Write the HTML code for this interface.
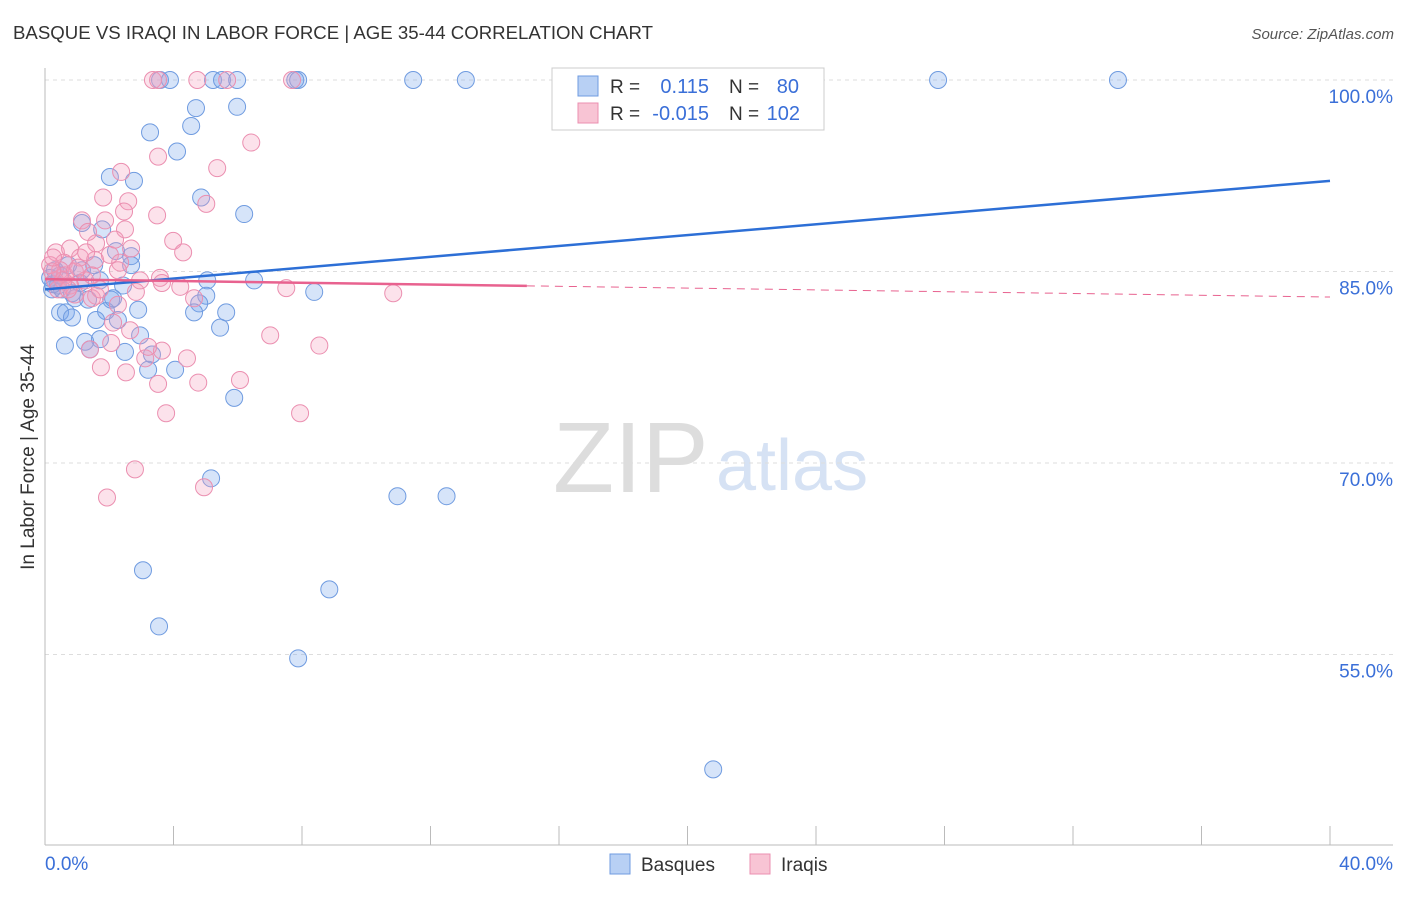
<!DOCTYPE html>
<html><head><meta charset="utf-8">
<style>
body{margin:0;background:#fff;font-family:"Liberation Sans",sans-serif;}
svg text{font-family:"Liberation Sans",sans-serif;}
</style></head>
<body>
<svg id="chart" width="1406" height="892" viewBox="0 0 1406 892" xmlns="http://www.w3.org/2000/svg">
<text x="13" y="39" font-size="18" fill="#333" textLength="640" lengthAdjust="spacingAndGlyphs">BASQUE VS IRAQI IN LABOR FORCE | AGE 35-44 CORRELATION CHART</text>
<text x="1394" y="39" font-size="15" fill="#555" text-anchor="end" font-style="italic">Source: ZipAtlas.com</text>
<text x="553" y="492" font-size="100" fill="#ddd" font-family="Liberation Serif, serif">ZIP</text>
<text x="716" y="490" font-size="72" fill="#d6e2f4">atlas</text>
<g id="grid"></g>
<g id="axes"></g>
<g id="pts"></g>
<g id="trends"></g>
<text transform="translate(34,457) rotate(-90)" font-size="19" fill="#333" text-anchor="middle">In Labor Force | Age 35-44</text>
<text x="45" y="870" font-size="19" fill="#3a6fd8">0.0%</text>
<text x="1393" y="870" font-size="19" fill="#3a6fd8" text-anchor="end">40.0%</text>
<g>
<rect x="552" y="68" width="272" height="62" fill="#fff" stroke="#ccc"/>
<rect x="578" y="76" width="20" height="20" fill="#b8d0f4" stroke="#6f9be0"/>
<rect x="578" y="103" width="20" height="20" fill="#f8c4d4" stroke="#eb8fb0"/>
<text x="610" y="93" font-size="19" fill="#333">R =</text>
<text x="709" y="93" font-size="20" fill="#3a6fd8" text-anchor="end">0.115</text>
<text x="729" y="93" font-size="19" fill="#333">N =</text>
<text x="799" y="93" font-size="20" fill="#3a6fd8" text-anchor="end">80</text>
<text x="610" y="120" font-size="19" fill="#333">R =</text>
<text x="709" y="120" font-size="20" fill="#3a6fd8" text-anchor="end">-0.015</text>
<text x="729" y="120" font-size="19" fill="#333">N =</text>
<text x="800" y="120" font-size="20" fill="#3a6fd8" text-anchor="end">102</text>
</g>
<g><rect x="610" y="854" width="20" height="20" fill="#b8d0f4" stroke="#6f9be0"/><text x="641" y="871" font-size="19" fill="#333">Basques</text></g>
<g><rect x="750" y="854" width="20" height="20" fill="#f8c4d4" stroke="#eb8fb0"/><text x="781" y="871" font-size="19" fill="#333">Iraqis</text></g>
</svg>
<script>
const yTicks=[100,85,70,55];
const yTickLabels=["100.0%","85.0%","70.0%","55.0%"];
const xTicks=[0,4,8,12,16,20,24,28,32,36,40];
const basqueX=[3.58,3.89,5.23,5.51,5.98,7.79,7.88,11.46,13.1,27.8,33.4,4.7,5.98,3.27,4.55,4.11,2.02,2.77,4.86,6.2,1.15,1.78,2.21,2.68,1.53,2.68,5.05,6.51,2.43,1.09,0.22,0.53,0.84,0.93,2.06,5.02,8.38,4.8,0.47,0.65,0.84,1.9,2.9,4.64,5.64,1.59,5.45,2.96,1.71,1.25,0.62,1.4,2.49,3.33,3.21,4.05,5.89,5.17,10.97,12.5,3.05,8.85,3.55,7.88,20.8,0.31,0.16,0.4,0.72,1.34,2.12,1.15,2.27,1.71,0.25,0.47];
const basqueY=[100,100,100,100,100,100,100,100,100,100,100,97.8,97.9,95.9,96.4,94.4,92.4,92.1,90.8,89.5,88.8,88.3,86.6,86.2,85.5,85.5,84.3,84.3,83.9,84.1,83.6,83.6,83.3,82.9,82.8,83.1,83.4,82.5,81.8,81.8,81.4,81.9,82.0,81.8,81.8,81.2,80.6,80.0,79.7,79.5,79.2,78.9,78.7,78.5,77.3,77.3,75.1,68.8,67.4,67.4,61.6,60.1,57.2,54.7,46.0,85.1,84.5,83.9,85.5,82.8,82.9,85.1,81.2,84.3,84.0,84.7];
const iraqiX=[3.36,3.52,4.74,5.67,7.69,6.42,3.52,5.36,2.37,1.81,5.02,2.59,3.49,1.15,2.46,2.49,3.99,4.3,1.59,0.34,0.78,2.68,1.09,0.59,3.58,4.21,7.51,10.84,3.64,2.83,1.59,1.46,4.64,2.27,2.12,2.65,7.01,8.54,2.06,1.4,3.12,3.64,4.42,1.74,2.52,3.52,4.77,6.07,3.77,7.94,2.8,1.93,4.95,3.21,0.47,0.31,0.62,0.93,1.25,0.16,0.78,0.4,1.56,2.02,2.34,0.93,1.71,2.96,2.18,1.34,1.87,0.56,0.22,1.03,0.72,1.46,2.27,0.25,1.28];
const iraqiY=[100,100,100,100,100,95.1,94.0,93.1,92.8,90.8,90.3,90.5,89.4,89.0,89.7,88.3,87.4,86.5,87.2,86.5,86.8,86.8,86.1,85.7,84.5,83.8,83.7,83.3,84.1,83.4,83.1,82.9,82.9,82.4,81.0,80.4,80.0,79.2,79.4,78.9,78.2,78.8,78.2,77.5,77.1,76.2,76.3,76.5,73.9,73.9,69.5,67.3,68.1,79.1,85.1,84.3,84.7,85.0,84.3,85.5,83.9,83.6,85.9,86.3,85.7,83.2,83.6,84.3,87.5,88.1,89.0,84.3,85.0,85.3,83.6,84.7,85.1,86.1,86.5];
const basqueTrend=[83.6,92.1];
const iraqiTrend=[84.4,83.0];
const iraqiSolidEnd=15;

const NS="http://www.w3.org/2000/svg";
const xs=v=>45+v*(1285/40);
const ys=v=>80+(100-v)*(191.5/15);
function mk(tag,attrs,parent){const e=document.createElementNS(NS,tag);for(const k in attrs)e.setAttribute(k,attrs[k]);document.getElementById(parent).appendChild(e);return e;}

yTicks.forEach((t,i)=>{
  const l=mk('line',{x1:45,x2:1393,y1:ys(t),y2:ys(t),stroke:'#ddd','stroke-dasharray':'4,4'},'grid');
  
  
  const tx=mk('text',{x:1393,y:ys(t)+23,'font-size':19,fill:'#3a6fd8','text-anchor':'end'},'grid');
  tx.textContent=yTickLabels[i];
  
  
});
const xa=mk('line',{x1:45,x2:1393,y1:845,y2:845,stroke:'#bbb'},'axes');


const ya=mk('line',{x1:45,x2:45,y1:68,y2:845,stroke:'#bbb'},'axes');


xTicks.forEach(t=>{
  const l=mk('line',{x1:xs(t),x2:xs(t),y1:826,y2:845,stroke:'#bbb'},'axes');
  
  
});
basqueX.forEach((x,i)=>{
  const c=mk('circle',{cx:xs(x),cy:ys(basqueY[i]),r:8.5,fill:'rgba(120,165,235,0.3)',stroke:'#6f9be0','stroke-width':1},'pts');
  
  
});
iraqiX.forEach((x,i)=>{
  const c=mk('circle',{cx:xs(x),cy:ys(iraqiY[i]),r:8.5,fill:'rgba(245,160,190,0.3)',stroke:'#eb8fb0','stroke-width':1},'pts');
  
  
});
const bt=mk('line',{x1:xs(0),y1:ys(basqueTrend[0]),x2:xs(40),y2:ys(basqueTrend[1]),stroke:'#2d6fd6','stroke-width':2.5},'trends');


const iv=x=>iraqiTrend[0]+(iraqiTrend[1]-iraqiTrend[0])*x/40;
const it=mk('line',{x1:xs(0),y1:ys(iv(0)),x2:xs(iraqiSolidEnd),y2:ys(iv(iraqiSolidEnd)),stroke:'#e8628f','stroke-width':2.5},'trends');


const id=mk('line',{x1:xs(iraqiSolidEnd),y1:ys(iv(iraqiSolidEnd)),x2:xs(40),y2:ys(iv(40)),stroke:'#e8628f','stroke-width':1,'stroke-dasharray':'8,6'},'trends');


</script>
</body></html>
